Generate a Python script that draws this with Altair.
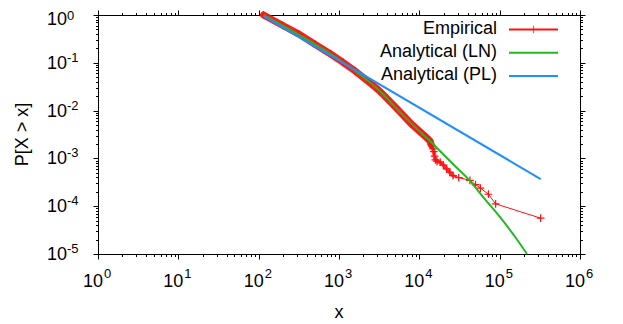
import altair as alt
import pandas as pd

# ---------------- data ----------------
emp_x = [115, 200, 316, 501, 794, 1122, 1585, 2512, 3162, 3981, 5012, 6310, 7943,
         10000, 12023, 13490, 14125, 14791, 15136, 15488, 15849, 16596, 18197,
         19953, 21878, 23988, 26303, 30903,
         42658, 50119, 57544, 72444, 89125, 323594]
emp_y = [1.0, 0.603, 0.398, 0.245, 0.151, 0.102, 0.0676, 0.0363, 0.0263, 0.0178,
         0.012, 0.00794, 0.00525, 0.00372, 0.00282, 0.00234, 0.00191, 0.00158,
         0.00138, 0.00112, 0.000933, 0.000871, 0.000832,
         0.000724, 0.000603, 0.000513, 0.000437, 0.000398,
         0.000347, 0.000282, 0.00024, 0.000178, 0.000112, 0.0000562]

ln_x = [115, 316, 1000, 3162, 6310, 10000, 13490, 18197, 28184, 42658, 63096,
        100000, 158489, 218776]
ln_y = [1.0, 0.389, 0.117, 0.0263, 0.00794, 0.00372, 0.00234, 0.00141, 0.000676,
        0.000339, 0.000151, 0.0000603, 0.0000219, 0.00001]

pl_x = [115, 323594]
pl_y = [0.95, 0.00037]

x_exponents = [0, 1, 2, 3, 4, 5, 6]
y_exponents = [0, -1, -2, -3, -4, -5]

legend_labels = ["Empirical", "Analytical (LN)", "Analytical (PL)"]

x_title = "x"
y_title = "P[X > x]"

# ---------------- styles ----------------
RED = "#ff1010"
GREEN = "#22b822"
BLUE = "#1e8fff"
legend_colors = [RED, GREEN, BLUE]
FONT = "Liberation Sans"
TOP = 7
W, H = 482, 239

emp = pd.DataFrame({"x": emp_x, "y": emp_y})
ln = pd.DataFrame({"x": ln_x, "y": ln_y})
pl = pd.DataFrame({"x": pl_x, "y": pl_y})

xs = alt.Scale(type="log", domain=[1, 1e6])
ys = alt.Scale(type="log", domain=[1e-5, 1])

x_ticks = [k * 10.0 ** n for n in range(0, 6) for k in range(1, 10)] + [1e6]
y_ticks = [k * 10.0 ** n for n in range(-5, 0) for k in range(1, 10)] + [1.0]

major = "abs(log(datum.value)/LN10 - round(log(datum.value)/LN10)) < 0.001"
tick_size = {"condition": {"test": major, "value": 5}, "value": 2.5}


def axis(orient, values):
    return alt.Axis(orient=orient, values=values, labels=False, title=None,
                    grid=False, domain=True, domainColor="black", domainWidth=1,
                    ticks=True, tickColor="black", tickWidth=1, tickSize=tick_size)


# dense part of the empirical curve: overlapping markers form a thick band
band = alt.Chart(emp).transform_filter("datum.x <= 14200").mark_line(
    color=RED, strokeWidth=7, opacity=0.95, strokeCap="round").encode(
    x=alt.X("x:Q", scale=xs, axis=axis("bottom", x_ticks)),
    y=alt.Y("y:Q", scale=ys, axis=axis("left", y_ticks)),
)
band2 = alt.Chart(emp).transform_filter("datum.x >= 13400 && datum.x <= 27000").mark_line(
    color=RED, strokeWidth=4, opacity=0.75, strokeCap="round").encode(
    x=alt.X("x:Q", scale=xs, axis=None),
    y=alt.Y("y:Q", scale=ys, axis=None),
)

emp_line = alt.Chart(emp).mark_line(color=RED, strokeWidth=1).encode(
    x=alt.X("x:Q", scale=xs, axis=axis("top", x_ticks)),
    y=alt.Y("y:Q", scale=ys, axis=axis("right", y_ticks)),
)

CROSS = "M-1,0L1,0M0,-1L0,1"
emp_pts = alt.Chart(emp).mark_point(shape=CROSS, size=60, filled=False,
                                    color=RED, strokeWidth=1.2, opacity=1).encode(
    x=alt.X("x:Q", scale=xs, axis=None),
    y=alt.Y("y:Q", scale=ys, axis=None),
)

ln_line = alt.Chart(ln).mark_line(color=GREEN, strokeWidth=2, interpolate="monotone").encode(
    x=alt.X("x:Q", scale=xs, axis=None),
    y=alt.Y("y:Q", scale=ys, axis=None),
)

pl_line = alt.Chart(pl).mark_line(color=BLUE, strokeWidth=2).encode(
    x=alt.X("x:Q", scale=xs, axis=None),
    y=alt.Y("y:Q", scale=ys, axis=None),
)

# tick labels 10^n
xdf = pd.DataFrame({"v": [10.0 ** e for e in x_exponents],
                    "base": ["10"] * len(x_exponents),
                    "exp": [str(e) for e in x_exponents]})
ydf = pd.DataFrame({"v": [10.0 ** e for e in y_exponents],
                    "base": ["10"] * len(y_exponents),
                    "exp": [str(e) for e in y_exponents]})

xlab_base = alt.Chart(xdf).mark_text(align="right", baseline="alphabetic", fontSize=18,
                                     font=FONT, dx=5, color="black").encode(
    x=alt.X("v:Q", scale=xs, axis=None), y=alt.value(H + 33), text="base:N")
xlab_exp = alt.Chart(xdf).mark_text(align="left", baseline="alphabetic", fontSize=13,
                                    font=FONT, dx=6, color="black").encode(
    x=alt.X("v:Q", scale=xs, axis=None), y=alt.value(H + 24), text="exp:N")


def ylabels(filter_expr, dy_base, dy_exp):
    b = alt.Chart(ydf).transform_filter(filter_expr).mark_text(
        align="right", baseline="alphabetic", fontSize=18, font=FONT,
        dy=dy_base, color="black").encode(
        y=alt.Y("v:Q", scale=ys, axis=None), x=alt.value(-31), text="base:N")
    e = alt.Chart(ydf).transform_filter(filter_expr).mark_text(
        align="left", baseline="alphabetic", fontSize=13, font=FONT,
        dy=dy_exp, color="black").encode(
        y=alt.Y("v:Q", scale=ys, axis=None), x=alt.value(-31), text="exp:N")
    return [b, e]


# the topmost label is nudged down a little so it is not cut at the page edge
ylab_layers = ylabels("datum.v < 0.5", 6, -1) + ylabels("datum.v > 0.5", 10, 5)

one = pd.DataFrame({"t": [x_title], "u": [y_title]})
xt = alt.Chart(one).mark_text(align="center", baseline="alphabetic", fontSize=18,
                              font=FONT, color="black").encode(
    x=alt.value(W / 2), y=alt.value(H + 64), text="t:N")
yt = alt.Chart(one).mark_text(align="center", baseline="middle", fontSize=18,
                              font=FONT, angle=270, color="black").encode(
    x=alt.value(-75), y=alt.value(H / 2), text="u:N")

# legend (gnuplot style: text left, sample right)
legend_layers = []
for i, (lab, col) in enumerate(zip(legend_labels, legend_colors)):
    d = pd.DataFrame({"lab": [lab]})
    ty = 20.5 + 23.3 * i - (TOP - 5)
    ly = 16.5 + 23.3 * i - (TOP - 5)
    legend_layers.append(alt.Chart(d).mark_text(align="right", baseline="alphabetic",
                                                fontSize=18, font=FONT, color="black").encode(
        x=alt.value(399), y=alt.value(ty), text="lab:N"))
    legend_layers.append(alt.Chart(d).mark_rule(color=col, strokeWidth=2).encode(
        x=alt.value(411), x2=alt.value(460), y=alt.value(ly)))
    if i == 0:
        legend_layers.append(alt.Chart(d).mark_point(shape=CROSS, size=60, filled=False,
                                                     color=RED, strokeWidth=1.2).encode(
            x=alt.value(435.5), y=alt.value(ly)))

chart = alt.layer(
    band, band2, emp_line, emp_pts, ln_line, pl_line,
    xlab_base, xlab_exp, *ylab_layers, xt, yt, *legend_layers
).resolve_axis(x="independent", y="independent").properties(
    width=W, height=H,
    autosize=alt.AutoSizeParams(type="none"),
    padding={"left": 90, "top": TOP, "right": 35, "bottom": 75},
    background="white",
).configure_view(stroke="black", strokeWidth=1)

chart.save("out.html", embed_options={"renderer": "svg", "actions": False})
